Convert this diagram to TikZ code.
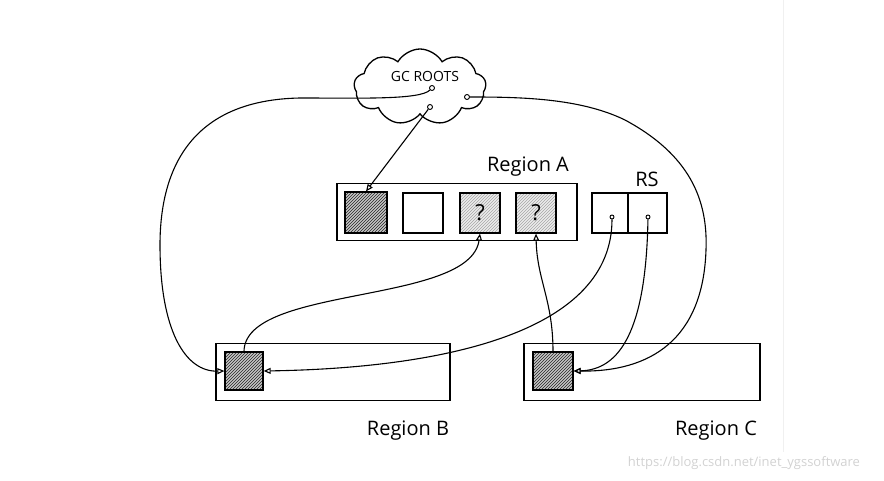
\documentclass[tikz,border=0pt]{standalone}
\usepackage{fontspec}
\setmainfont{Open Sans}
\usetikzlibrary{shapes.symbols,patterns,arrows.meta}

\tikzset{
  regionbox/.style={draw, line width=1.3pt, minimum width=#1, minimum height=57, inner sep=0pt},
  slot/.style={draw, line width=1.3pt, minimum width=40, minimum height=40, inner sep=0pt},
  darkslot/.style={slot, preaction={fill=gray!45}, pattern=north east lines, pattern color=black!85},
  maybeslot/.style={slot, preaction={fill=gray!15}, pattern=north east lines, pattern color=gray!70, font=\fontsize{22}{24}\selectfont},
  rootdot/.style={circle, draw, fill=white, line width=0.9pt, minimum size=5, inner sep=0pt},
  conn/.style={line width=1.1pt, -{Triangle[open,length=7pt,width=6pt]}},
  label/.style={font=\fontsize{20}{22}\selectfont}
}

\begin{document}
\begin{tikzpicture}[x=1pt, y=-1pt]
  \useasboundingbox (0,0) rectangle (884,481);

  % frame edge of the screenshot
  \draw[gray!12, line width=1pt] (783,0) -- (783,452);

  % GC roots
  \node[cloud, draw, line width=1.3pt, cloud puffs=9, cloud puff arc=120, aspect=1.8,
        minimum width=132, minimum height=76, fill=white] (roots) at (420,87) {};
  \node[font=\fontsize{14}{16}\selectfont] (rootstext) at (425,76) {GC ROOTS};
  \node[rootdot] (rootL) at (432,88) {};
  \node[rootdot] (rootM) at (430,107) {};
  \node[rootdot] (rootR) at (467,97) {};

  % Region A
  \node[regionbox=240] (regA) at (457,212) {};
  \node[label, anchor=south] (regAtext) at (528,180) {Region A};
  \node[darkslot, minimum width=42, minimum height=41] (a1) at (366,212.5) {};
  \node[slot] (a2) at (423,213) {};
  \node[maybeslot] (a3) at (480,213) {?};
  \node[maybeslot] (a4) at (536,213) {?};

  % remembered set
  \node[slot, minimum width=36] (rs1) at (610,213) {};
  \node[slot, minimum width=39] (rs2) at (647.5,213) {};
  \node[label, anchor=south] (rstext) at (647,190) {RS};
  \node[rootdot, minimum size=4] (rsdot1) at (612,217) {};
  \node[rootdot, minimum size=4] (rsdot2) at (648,217) {};

  % Region B
  \node[regionbox=234] (regB) at (333,372) {};
  \node[darkslot, minimum width=38, minimum height=38] (bsq) at (244,371) {};
  \node[label] (regBtext) at (408,431) {Region B};

  % Region C
  \node[regionbox=236] (regC) at (642,372) {};
  \node[darkslot, minimum width=40, minimum height=38] (csq) at (553,371) {};
  \node[label] (regCtext) at (716,431) {Region C};

  % references from the roots
  \draw[conn] (rootL) .. controls (420,100) and (360,98) .. (300,98)
    .. controls (190,100) and (160,170) .. (160,245)
    .. controls (160,330) and (185,372) .. (bsq.west);
  \draw[conn] (rootM) -- (a1.north);
  \draw[conn] (rootR) .. controls (520,97) and (580,98) .. (625,120)
    .. controls (690,155) and (708,200) .. (706,250)
    .. controls (703,340) and (650,372) .. (csq.east);

  % references into Region A
  \draw[conn] (bsq.north) .. controls (245,285) and (470,305) .. (a3.south);
  \draw[conn] (csq.north) .. controls (553,300) and (537,280) .. (a4.south);

  % card table entries
  \draw[conn] (rsdot1) .. controls (612,330) and (450,368) .. (bsq.east);
  \draw[conn] (rsdot2) .. controls (646,330) and (620,370) .. (csq.east);

  % watermark
  \node[gray!35, font=\fontsize{13}{15}\selectfont] (mark) at (744,463) {https://blog.csdn.net/inet\_ygssoftware};
\end{tikzpicture}
\end{document}
